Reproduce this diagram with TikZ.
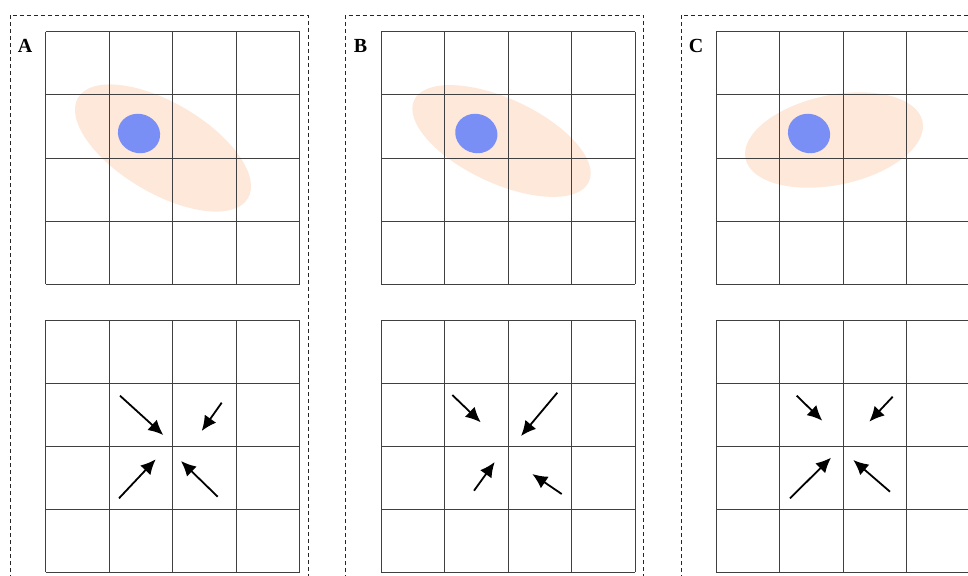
\documentclass[tikz,border=0pt]{standalone}
\usepackage{fontspec}
\setmainfont{Liberation Serif}
\usetikzlibrary{arrows.meta}
\definecolor{peach}{RGB}{253,232,217}
\definecolor{blob}{RGB}{122,143,245}
\tikzset{
  gridline/.style={line width=1pt, draw=black!75},
  framebox/.style={line width=0.9pt, draw=black!85, dash pattern=on 4pt off 3pt},
  flowarrow/.style={line width=1.8pt, -{Latex[length=15pt,width=14pt]}},
  panellabel/.style={font=\fontsize{20}{20}\selectfont\bfseries, inner sep=0pt}
}
\begin{document}
\begin{tikzpicture}[x=1pt,y=-1pt]
\useasboundingbox (0,0) rectangle (968,575);
\clip (0,0) rectangle (968,575);
\fill[white] (0,0) rectangle (968,575);
% panels: frame left, grid left
\foreach \f/\g/\lab in {10/45.5/A, 345.5/381/B, 681/716/C}{
  \draw[framebox] (\f,600) -- (\f,15) -- (\f+298,15) -- (\f+298,600);
  \node[panellabel] (lab\lab) at (\f+15,46) {\lab};
}
% orange ellipses
\fill[peach, shift={(163,148)}, rotate=-30.6] (0,0) ellipse [x radius=98.7, y radius=45.2];
\fill[peach, shift={(501.5,141)}, rotate=-25] (0,0) ellipse [x radius=96.4, y radius=42.2];
\fill[peach, shift={(834,140)}, rotate=11.8] (0,0) ellipse [x radius=90.4, y radius=44.9];
% grids
\foreach \g in {45.5,381,716}{
  \foreach \i in {0,...,4}{
    \draw[gridline] (\g+\i*63.5,32) -- (\g+\i*63.5,284);
    \draw[gridline] (\g,32+\i*63) -- (\g+254,32+\i*63);
    \draw[gridline] (\g+\i*63.5,320) -- (\g+\i*63.5,572);
    \draw[gridline] (\g,320+\i*63) -- (\g+254,320+\i*63);
  }
}
% blue blobs
\fill[blob, shift={(139,133.5)}, rotate=-20] (0,0) ellipse [x radius=21.3, y radius=19.5];
\fill[blob, shift={(476.3,133.5)}, rotate=-20] (0,0) ellipse [x radius=21.3, y radius=19.5];
\fill[blob, shift={(809,133.5)}, rotate=-20] (0,0) ellipse [x radius=21.3, y radius=19.5];
% arrows A
\draw[flowarrow] (120,395.7) -- (163.3,435);
\draw[flowarrow] (221.7,402.7) -- (201.7,431);
\draw[flowarrow] (119,498.3) -- (155.7,459.3);
\draw[flowarrow] (217.7,496.7) -- (181,461);
% arrows B
\draw[flowarrow] (452.3,395) -- (480.7,422.3);
\draw[flowarrow] (557.3,392.7) -- (521,436);
\draw[flowarrow] (474,490.7) -- (494.7,462);
\draw[flowarrow] (561.7,494) -- (532.3,474);
% arrows C
\draw[flowarrow] (796.7,395.7) -- (822.3,420.7);
\draw[flowarrow] (892.7,396.7) -- (869.3,421.7);
\draw[flowarrow] (790,498.3) -- (831,457.7);
\draw[flowarrow] (890,491.7) -- (853.3,460);
\end{tikzpicture}
\end{document}
